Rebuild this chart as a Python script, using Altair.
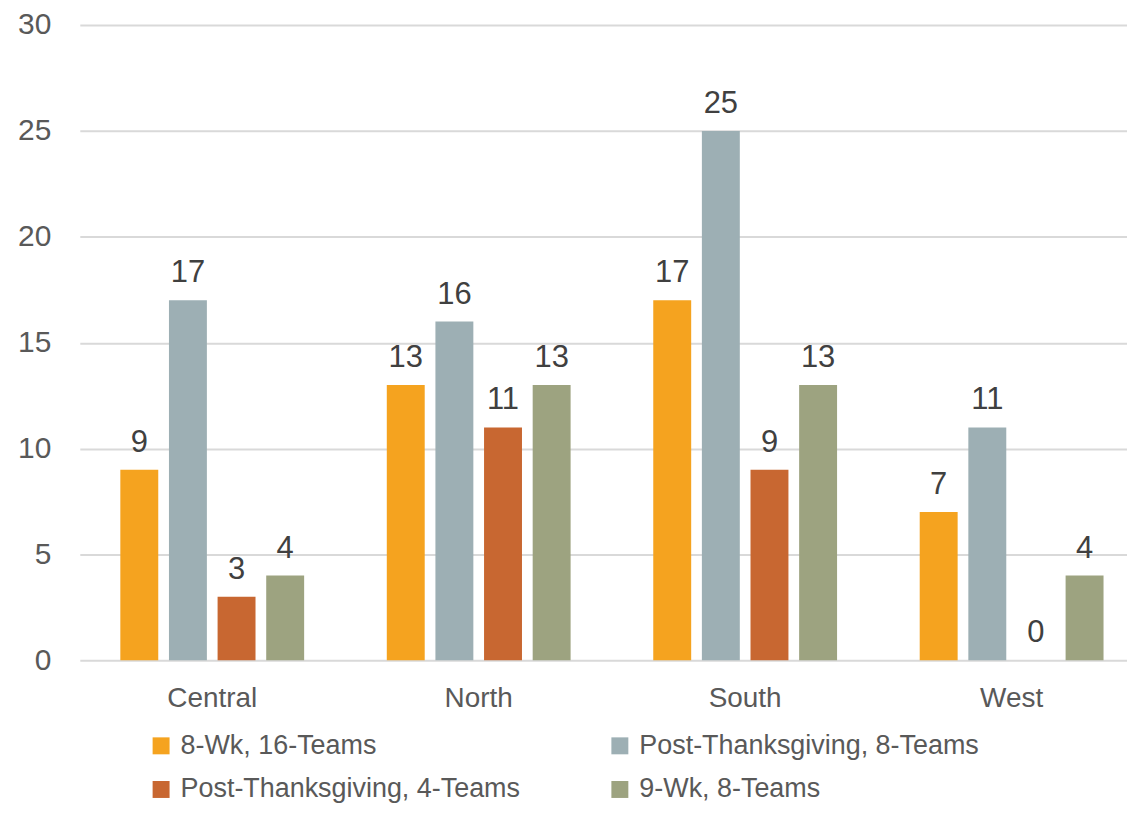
import altair as alt
import pandas as pd

regions = ["Central", "North", "South", "West"]
series = ["8-Wk, 16-Teams", "Post-Thanksgiving, 8-Teams",
          "Post-Thanksgiving, 4-Teams", "9-Wk, 8-Teams"]
colors = ["#F5A31F", "#9DAFB4", "#C86731", "#9DA380"]
values = {
    "8-Wk, 16-Teams": [9, 13, 17, 7],
    "Post-Thanksgiving, 8-Teams": [17, 16, 25, 11],
    "Post-Thanksgiving, 4-Teams": [3, 11, 9, 0],
    "9-Wk, 8-Teams": [4, 13, 13, 4],
}
y_ticks = [0, 5, 10, 15, 20, 25, 30]

rows = []
for s in series:
    for r, v in zip(regions, values[s]):
        rows.append({"Region": r, "Series": s, "Value": v})
df = pd.DataFrame(rows)

FONT = "Liberation Sans"

x = alt.X("Region:N", sort=regions, title=None,
          scale=alt.Scale(paddingInner=0.27, paddingOuter=0.1, align=0.66),
          axis=alt.Axis(labelAngle=0, labelFontSize=28, labelColor="#595959",
                        labelFont=FONT, ticks=False, domain=False,
                        labelPadding=24, grid=False))
xo = alt.XOffset("Series:N", sort=series,
                 scale=alt.Scale(paddingInner=0.22, paddingOuter=0.11))
y = alt.Y("Value:Q", title=None,
          scale=alt.Scale(domain=[0, 30], nice=False),
          axis=alt.Axis(values=y_ticks, labelFontSize=30, labelColor="#595959",
                        labelFont=FONT, ticks=False, domain=False,
                        labelPadding=29, gridColor="#D9D9D9", gridWidth=2))

bars = alt.Chart(df).mark_bar().encode(
    x=x, xOffset=xo, y=y,
    color=alt.Color("Series:N", sort=series,
                    scale=alt.Scale(domain=series, range=colors),
                    legend=alt.Legend(title=None, orient="none", legendX=68, legendY=709,
                                      direction="horizontal",
                                      columns=2, columnPadding=86, rowPadding=16,
                                      symbolType="square", symbolSize=289,
                                      symbolStrokeWidth=0, symbolOpacity=1,
                                      labelFontSize=27, labelFont=FONT,
                                      labelColor="#595959", labelOffset=6,
                                      labelLimit=600)),
)

labels = alt.Chart(df).mark_text(
    baseline="alphabetic", dy=-18, fontSize=31, font=FONT, color="#404040"
).encode(
    x=alt.X("Region:N", sort=regions), xOffset=alt.XOffset("Series:N", sort=series),
    y="Value:Q", text="Value:Q",
)

chart = (bars + labels).properties(
    width=1050, height=637,
    autosize=alt.AutoSizeParams(type="none"),
    padding={"left": 72, "top": 16, "right": 0, "bottom": 145},
).configure_view(stroke=None)

chart.save("out.html", embed_options={"renderer": "svg", "actions": False})
